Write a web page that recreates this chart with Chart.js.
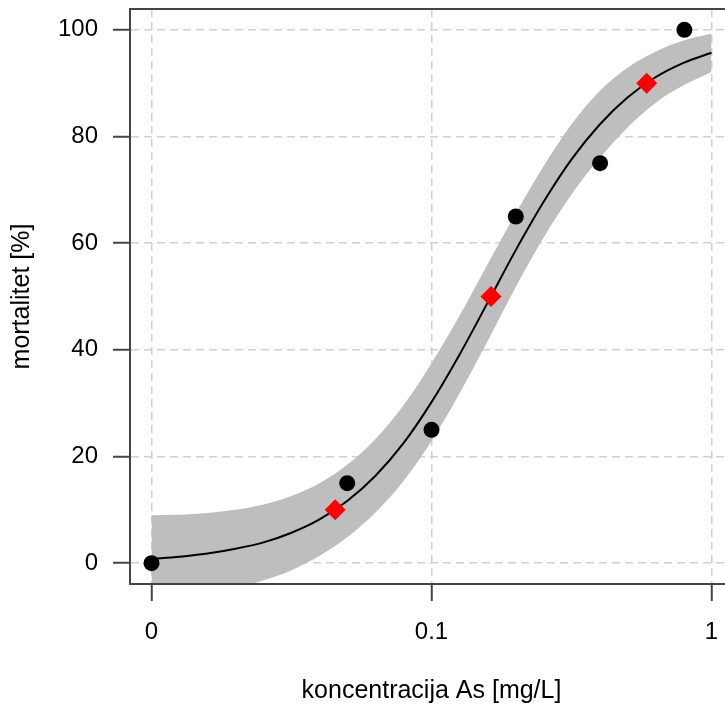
<!DOCTYPE html>
<html><head><meta charset="utf-8">
<script src="https://cdn.jsdelivr.net/npm/chart.js@4.4.1/dist/chart.umd.min.js"></script>
<style>html,body{margin:0;padding:0;overflow:hidden;background:#fff;width:725px;height:706px}canvas{display:block}</style>
</head><body>
<canvas id="c" width="740" height="706"></canvas>
<script>
// ---- data ----
const ZERO_POSITION = 0.01;               // where dose 0 is drawn on the log axis
const concentration = [0, 0.05, 0.1, 0.2, 0.4, 0.8];
const mortality = [0, 15, 25, 65, 75, 100];
const edDoses = [0.0453, 0.1631, 0.5868];
const edLevels = [10, 50, 90];
const curveLogDose = [-2.0,-1.9,-1.8,-1.7,-1.6,-1.5,-1.4,-1.3,-1.2,-1.1,-1.0,-0.9,-0.8,-0.7,-0.6,-0.5,-0.4,-0.3,-0.2,-0.1,0.0];
const curveFit  = [0.8,1.2,1.8,2.7,3.9,5.7,8.2,11.7,16.4,22.5,30.2,39.1,48.8,58.6,67.7,75.7,82.2,87.3,91.1,93.8,95.7];
const bandUpper = [9.0,9.1,9.4,10.0,11.0,12.6,15.0,18.5,23.3,29.6,37.5,46.4,56.0,65.5,74.4,82.3,88.5,92.9,95.9,98.0,99.3];
const bandLower = [-7.4,-6.7,-5.8,-4.7,-3.2,-1.3,1.4,4.9,9.5,15.4,22.9,31.8,41.6,51.7,61.0,69.1,75.9,81.7,86.3,89.6,92.1];
const xTickValues = [0.01, 0.1, 1];
const xTickLabels = ['0', '0.1', '1'];
const yTickValues = [0, 20, 40, 60, 80, 100];

const FONT = "'Liberation Sans', Arial, Helvetica, sans-serif";
Chart.defaults.font.family = FONT;
Chart.defaults.font.size = 24;
Chart.defaults.color = '#000';

const curveX = curveLogDose.map(v => Math.pow(10, v));
const pts = (xs, ys) => xs.map((x, i) => ({x: x, y: ys[i]}));

const boxPlugin = {
  id: 'box',
  afterDraw(chart) {
    const {ctx, chartArea: a} = chart;
    ctx.save();
    ctx.strokeStyle = '#444';
    ctx.lineWidth = 2;
    ctx.setLineDash([]);
    ctx.strokeRect(a.left, a.top, a.right - a.left, a.bottom - a.top);
    ctx.restore();
  }
};

const gridCommon = {
  color: '#d0d0d0', lineWidth: 1.5, borderDash: [8, 5],
  tickLength: 17, tickColor: '#444', tickWidth: 2, tickBorderDash: []
};
const borderCommon = {display: true, color: '#444', width: 2, dash: [8, 5]};

new Chart(document.getElementById('c'), {
  type: 'scatter',
  data: {
    datasets: [
      {label: 'obs', data: pts(concentration.map(c => c === 0 ? ZERO_POSITION : c), mortality),
       pointRadius: 8, pointHoverRadius: 8, pointBackgroundColor: '#000', pointBorderWidth: 0, showLine: false, order: 0},
      {label: 'ED', data: pts(edDoses, edLevels), pointStyle: 'rectRot',
       pointRadius: 10.5, pointHoverRadius: 10.5, pointBackgroundColor: '#ff0000', pointBorderWidth: 0, showLine: false, order: 0},
      {label: 'fit', data: pts(curveX, curveFit), showLine: true, borderColor: '#000', borderWidth: 2,
       pointRadius: 0, cubicInterpolationMode: 'monotone', fill: false, order: 1},
      {label: 'upper', data: pts(curveX, bandUpper), showLine: true, borderWidth: 0, borderColor: 'rgba(0,0,0,0)',
       backgroundColor: '#bebebe', pointRadius: 0, cubicInterpolationMode: 'monotone', fill: '+1', order: 2},
      {label: 'lower', data: pts(curveX, bandLower), showLine: true, borderWidth: 0, borderColor: 'rgba(0,0,0,0)',
       pointRadius: 0, cubicInterpolationMode: 'monotone', fill: false, order: 3}
    ]
  },
  options: {
    responsive: false, animation: false, devicePixelRatio: 1,
    layout: {autoPadding: false, padding: {top: 9, right: 7, left: 0, bottom: 0}},
    plugins: {legend: {display: false}, tooltip: {enabled: false}},
    scales: {
      x: {
        type: 'logarithmic', min: 0.008379, max: 1.1934,
        afterBuildTicks: s => { s.ticks = xTickValues.map(v => ({value: v})); },
        afterFit: s => { s.height = 122; s.paddingLeft = 0; s.paddingRight = 0; },
        ticks: {autoSkip: false, maxRotation: 0, padding: 17, color: '#000',
                callback: (v, i) => xTickLabels[i]},
        grid: gridCommon, border: borderCommon,
        title: {display: true, text: 'koncentracija As [mg/L]', color: '#000', font: {size: 25}, padding: {top: 0, bottom: 0}}
      },
      y: {
        min: -3.9, max: 103.9,
        afterBuildTicks: s => { s.ticks = yTickValues.map(v => ({value: v})); },
        afterFit: s => { s.width = 130; s.paddingTop = 0; s.paddingBottom = 0; },
        ticks: {padding: 15, color: '#000'},
        grid: gridCommon, border: borderCommon,
        title: {display: true, text: 'mortalitet [%]', color: '#000', font: {size: 25}, padding: {top: 7.6, bottom: 0}}
      }
    }
  },
  plugins: [boxPlugin]
});
</script>
</body></html>
